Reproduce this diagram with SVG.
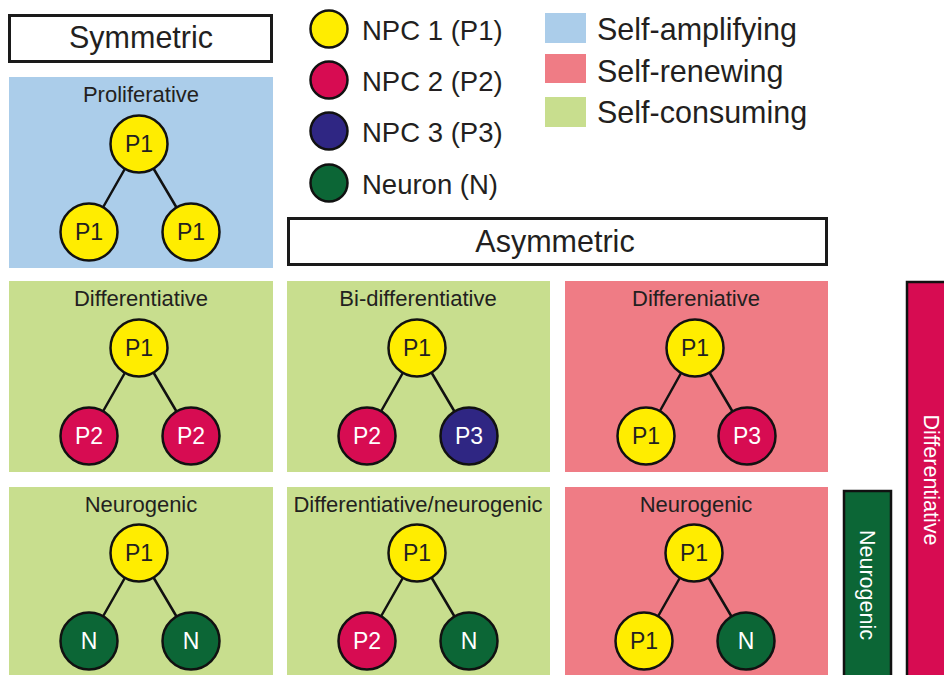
<svg xmlns="http://www.w3.org/2000/svg" width="944" height="675" viewBox="0 0 944 675">
<style>
text{font-family:"Liberation Sans",Arial,sans-serif;fill:#231f20}
.hdr{fill:#fff;stroke:#1a1a1a;stroke-width:3}
.hdrt{font-size:30.5px;text-anchor:middle}
.amp{fill:#abcdea}
.ren{fill:#ef7c85}
.con{fill:#c8de8e}
.ttl{font-size:22px;text-anchor:middle}
.cell{stroke:#111;stroke-width:2.5}
.p1{fill:#ffed00}
.p2{fill:#d70c52}
.p3{fill:#2f2683}
.n{fill:#0c6636}
.ct{font-size:23px;text-anchor:middle}
.wt{fill:#fff}
.lg{font-size:27.5px}
.lg2{font-size:30.5px}
.edge{stroke:#111;stroke-width:2.5;fill:none}
.bar{stroke:#111;stroke-width:2.5}
.bt{font-size:21.5px;fill:#fff;text-anchor:middle;dominant-baseline:central}
</style>

<!-- headers -->
<g id="hdr-symmetric">
<rect class="hdr" x="9.5" y="15.5" width="262" height="46"/>
<text class="hdrt" x="141" y="48">Symmetric</text>
</g>
<g id="hdr-asymmetric">
<rect class="hdr" x="288.5" y="218.5" width="538" height="46"/>
<text class="hdrt" x="555" y="252">Asymmetric</text>
</g>

<!-- legend -->
<g id="legend-p1"><circle class="cell p1" cx="329" cy="29" r="18.5"/><text class="lg" x="362" y="40">NPC 1 (P1)</text></g>
<g id="legend-p2"><circle class="cell p2" cx="329" cy="80" r="18.5"/><text class="lg" x="362" y="91">NPC 2 (P2)</text></g>
<g id="legend-p3"><circle class="cell p3" cx="329" cy="131" r="18.5"/><text class="lg" x="362" y="142">NPC 3 (P3)</text></g>
<g id="legend-n"><circle class="cell n" cx="329" cy="183" r="18.5"/><text class="lg" x="362" y="194">Neuron (N)</text></g>
<g id="legend-amp"><rect class="amp" x="545" y="13" width="41" height="30"/><text class="lg2" x="597" y="40">Self-amplifying</text></g>
<g id="legend-ren"><rect class="ren" x="545" y="54" width="41" height="29"/><text class="lg2" x="597" y="82">Self-renewing</text></g>
<g id="legend-con"><rect class="con" x="545" y="97" width="41" height="30"/><text class="lg2" x="597" y="123">Self-consuming</text></g>

<!-- panels -->
<g id="panel-proliferative"><rect class="amp" x="9" y="77" width="264" height="191"/><text class="ttl" x="141" y="102">Proliferative</text></g>
<g id="panel-differentiative"><rect class="con" x="9" y="281" width="264" height="191"/><text class="ttl" x="141" y="306">Differentiative</text></g>
<g id="panel-bidiff"><rect class="con" x="287" y="281" width="263" height="191"/><text class="ttl" x="418" y="306">Bi-differentiative</text></g>
<g id="panel-differeniative"><rect class="ren" x="565" y="281" width="263" height="191"/><text class="ttl" x="696" y="306">Differeniative</text></g>
<g id="panel-neurogenic-sym"><rect class="con" x="9" y="487" width="264" height="190"/><text class="ttl" x="141" y="512">Neurogenic</text></g>
<g id="panel-diffneuro"><rect class="con" x="287" y="487" width="263" height="190"/><text class="ttl" x="418" y="512">Differentiative/neurogenic</text></g>
<g id="panel-neurogenic-asym"><rect class="ren" x="565" y="487" width="263" height="190"/><text class="ttl" x="696" y="512">Neurogenic</text></g>

<!-- side bars -->
<g id="bar-neurogenic"><rect class="bar n" x="844" y="491" width="47" height="190"/><text class="bt" transform="translate(867,585) rotate(90)">Neurogenic</text></g>
<g id="bar-differentiative"><rect class="bar p2" x="907" y="282" width="45" height="400"/><text class="bt" transform="translate(931,480) rotate(90)">Differentiative</text></g>

<!-- connectors -->
<g id="connectors">
<path class="edge" d="M139 144L89 232M139 144L191 232"/>
<path class="edge" d="M139 348L89 436M139 348L191 436"/>
<path class="edge" d="M417 348L367 436M417 348L469 436"/>
<path class="edge" d="M695 348L646 436M695 348L747 436"/>
<path class="edge" d="M139 553L89 641M139 553L191 641"/>
<path class="edge" d="M417 553L367 641M417 553L469 641"/>
<path class="edge" d="M694 553L644 641M694 553L746 641"/>
</g>

<!-- cells -->
<g id="prolif-top"><circle class="cell p1" cx="139" cy="144" r="28.5"/><text class="ct" x="139" y="152">P1</text></g>
<g id="prolif-left"><circle class="cell p1" cx="89" cy="232" r="28.5"/><text class="ct" x="89" y="240">P1</text></g>
<g id="prolif-right"><circle class="cell p1" cx="191" cy="232" r="28.5"/><text class="ct" x="191" y="240">P1</text></g>

<g id="diff-top"><circle class="cell p1" cx="139" cy="348" r="28.5"/><text class="ct" x="139" y="356">P1</text></g>
<g id="diff-left"><circle class="cell p2" cx="89" cy="436" r="28.5"/><text class="ct wt" x="89" y="444">P2</text></g>
<g id="diff-right"><circle class="cell p2" cx="191" cy="436" r="28.5"/><text class="ct wt" x="191" y="444">P2</text></g>

<g id="bidiff-top"><circle class="cell p1" cx="417" cy="348" r="28.5"/><text class="ct" x="417" y="356">P1</text></g>
<g id="bidiff-left"><circle class="cell p2" cx="367" cy="436" r="28.5"/><text class="ct wt" x="367" y="444">P2</text></g>
<g id="bidiff-right"><circle class="cell p3" cx="469" cy="436" r="28.5"/><text class="ct wt" x="469" y="444">P3</text></g>

<g id="differen-top"><circle class="cell p1" cx="695" cy="348" r="28.5"/><text class="ct" x="695" y="356">P1</text></g>
<g id="differen-left"><circle class="cell p1" cx="646" cy="436" r="28.5"/><text class="ct" x="646" y="444">P1</text></g>
<g id="differen-right"><circle class="cell p2" cx="747" cy="436" r="28.5"/><text class="ct wt" x="747" y="444">P3</text></g>

<g id="neuro-top"><circle class="cell p1" cx="139" cy="553" r="28.5"/><text class="ct" x="139" y="561">P1</text></g>
<g id="neuro-left"><circle class="cell n" cx="89" cy="641" r="28.5"/><text class="ct wt" x="89" y="649">N</text></g>
<g id="neuro-right"><circle class="cell n" cx="191" cy="641" r="28.5"/><text class="ct wt" x="191" y="649">N</text></g>

<g id="dn-top"><circle class="cell p1" cx="417" cy="553" r="28.5"/><text class="ct" x="417" y="561">P1</text></g>
<g id="dn-left"><circle class="cell p2" cx="367" cy="641" r="28.5"/><text class="ct wt" x="367" y="649">P2</text></g>
<g id="dn-right"><circle class="cell n" cx="469" cy="641" r="28.5"/><text class="ct wt" x="469" y="649">N</text></g>

<g id="an-top"><circle class="cell p1" cx="694" cy="553" r="28.5"/><text class="ct" x="694" y="561">P1</text></g>
<g id="an-left"><circle class="cell p1" cx="644" cy="641" r="28.5"/><text class="ct" x="644" y="649">P1</text></g>
<g id="an-right"><circle class="cell n" cx="746" cy="641" r="28.5"/><text class="ct wt" x="746" y="649">N</text></g>
</svg>
